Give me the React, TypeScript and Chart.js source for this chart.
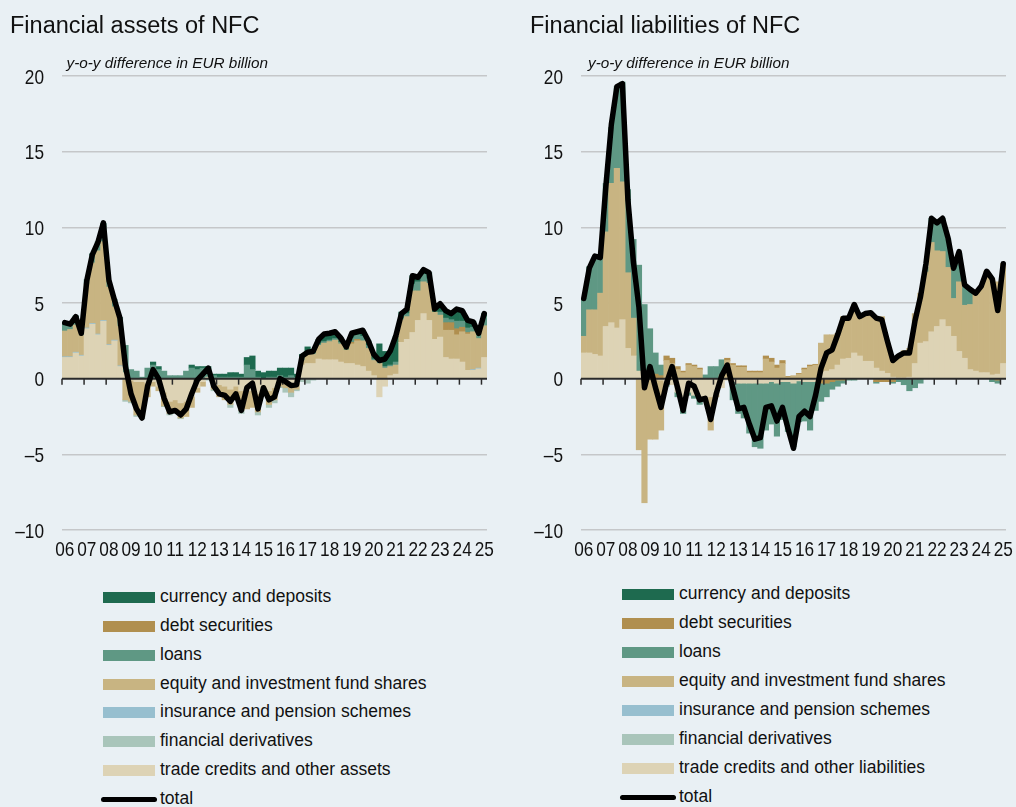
import React, { useEffect, useRef } from 'react';
import { Chart, registerables } from 'chart.js';

Chart.register(...registerables);

// ---------- tick labels / categories ----------
const yearLabels = ['06','07','08','09','10','11','12','13','14','15','16','17','18','19','20','21','22','23','24','25'];
const yTicks = [-10, -5, 0, 5, 10, 15, 20];
const quarters = yearLabels.flatMap((y) => ['Q1','Q2','Q3','Q4'].map((q) => `20${y} ${q}`)).slice(0, 77);

// ---------- Financial assets of NFC ----------
const assetsTrade = [
  1.4,1.4,1.7,1.5, 3.3,3.6,2.9,3.8, 2.2,2.5,0.8,0.4, -0.1,-0.2,-0.2,-0.3,
  -0.2,-0.5,-0.9,-1.5, -1.4,-1.6,-1.5,-1.2, -0.6,-0.2,0.1,-0.2, -0.4,-0.5,-0.7,-0.5,
  -0.8,-0.8,-0.8,-1.0, -0.5,-0.8,-0.6,-0.3, -0.3,-0.5,-0.3,0.9, 1.0,1.0,1.3,1.25,
  1.25,1.25,1.1,1.0, 1.0,0.9,0.8,0.5, 0.2,-1.2,-0.5,0.2, 0.3,2.4,2.6,3.05,
  3.85,4.3,3.85,2.6, 2.75,1.4,1.3,1.3, 1.1,0.55,0.55,0.65, 1.4,
];
const assetsEquity = [
  1.7,1.8,1.8,1.3, 2.9,4.0,5.5,5.2, 3.8,2.2,2.6,-1.4, -1.4,-2.2,-2.3,-0.9,
  -0.3,-0.3,-0.9,-0.8, -0.8,-1.0,-1.0,-0.7, -0.3,-0.3,0,-0.5, -0.8,-0.9,-1.0,-0.8,
  -1.3,-1.2,-1.1,-1.2, -0.6,-0.9,-0.8,-0.2, -0.3,-0.4,-0.4,0.3, 0.7,0.6,0.9,1.1,
  1.2,1.3,1.2,0.9, 1.3,1.6,1.7,1.5, 1.0,1.0,0.7,0.6, 0.6,1.5,1.5,2.75,
  1.95,2.1,2.45,1.8, 1.45,1.8,1.9,1.6, 2.0,2.4,2.5,1.95, 2.1,
];
const assetsLoans = [
  0.5,0.4,0.5,0.3, 0.3,0.5,0.6,1.0, 0.4,0.5,0.6,1.8, 0.6,0.5,0.1,0.7,
  0.9,0.6,0.5,0.2, 0.2,0.2,0.5,0.7, 0.6,0.7,0.6,0.2, 0.1,0.1,0.1,0.1,
  0.1,0.9,0.6,0.1, 0,0.1,0.1,0.2, 0.1,0.2,0.1,0.2, 0.1,0.1,0.1,0.1,
  0.1,0.1,0.1,0, 0.3,0.3,0.3,0.2, 0.1,0.1,0.1,0.1, 0.2,0.1,0.2,0.45,
  0.6,0.5,0.3,0, 0.2,0.3,0.2,0.5, 0.4,0.3,0.3,0.2, 0.6,
];
const assetsCurrency = [
  0.1,0,0.1,0, 0,0.1,0,0.2, 0,0,0,0, 0,0,0,0,
  0.2,0.2,0,0, 0,0,0,0.2, 0.2,0.1,0.1,0.1, 0.2,0.2,0.3,0.3,
  0.2,0.5,0.9,0.4, 0.4,0.4,0.4,0.5, 0.6,0.5,0.2,0.2, 0.3,0.2,0.3,0.5,
  0.5,0.4,0.3,0.2, 0.2,0.2,0.3,0.3, 0.4,1.2,1.0,0.9, 1.7,0.4,0.3,0.55,
  0.3,0.3,0.4,0.2, 0.55,0.5,0.4,0.8, 0.7,0.5,0.4,0.2, 0.2,
];
const assetsDebt = [
  0,0,0,0, 0,0,0,0, 0,0,0,0, 0,0,0,0,
  0,0,0,0, 0,0,0,0, 0,0,0,0, 0,0,0,0,
  0,0,0,0, 0,0,0,0, 0,0,0,0, 0,0,0,0,
  0,0,0,0, 0.1,0.1,0,0, 0,0,0,0, 0,0,0,0,
  0,0,0,0, 0,0.5,0.5,0.4, 0.3,0.1,0,0, 0,
];
const assetsInsurance = [
  0.05,0.05,0.05,0.05, 0.05,0.05,0.05,0.05, 0.05,0.05,0.05,0, 0,0,0,0,
  0,0,0,0, 0,0,0,0, 0,0,0,0, 0,0,0,0,
  0,0,0,0, 0,0,0,0, 0,0,0,0, 0,0,0,0,
  0,0,0,0, 0,0,0,0, 0,0,0,0, 0,0,0,0,
  0,0,0,0, 0,0,0,0, 0,0,0.05,0.05, 0,
];
const assetsDerivatives = [
  0,0,0,0, 0,0,0,0, 0,0,0,-0.1, -0.1,-0.1,-0.15,0,
  0,0,-0.05,-0.1, -0.1,-0.05,0,0, 0,0,-0.1,-0.1, 0,0,-0.2,-0.1,
  -0.2,0,0,-0.2, 0,-0.2,-0.2,-0.1, -0.3,-0.3,-0.1,-0.2, -0.3,-0.1,0,0,
  0,0,0,0, 0,0,0,0, 0,0,0,0, 0,0,0,0,
  0,0,0,0, 0,0,0,0, 0,0,0,0, 0,
];
const assetsTotal = [
  3.7,3.6,4.1,3.0, 6.5,8.2,9.0,10.3, 6.5,5.2,4.0,0.8, -1.0,-2.0,-2.6,-0.5,
  0.6,0.0,-1.3,-2.2, -2.1,-2.4,-2.0,-1.0, -0.1,0.3,0.7,-0.5, -1.0,-1.1,-1.5,-1.0,
  -2.1,-0.6,-0.3,-2.0, -0.6,-1.4,-1.2,0.0, -0.2,-0.45,-0.4,1.5, 1.75,1.8,2.6,2.95,
  3.0,3.1,2.7,2.1, 3.0,3.1,3.2,2.5, 1.6,1.2,1.3,1.85, 2.85,4.3,4.6,6.8,
  6.7,7.2,7.0,4.6, 4.95,4.5,4.3,4.6, 4.5,3.85,3.75,3.0, 4.3,
];

// ---------- Financial liabilities of NFC ----------
const liabTrade = [
  1.7,1.7,1.6,1.5, 3.45,3.7,3.35,3.9, 2.0,1.5,0.5,0.2, 0,0,-0.1,-0.3,
  -0.4,-0.9,-2.0,-0.9, -1.1,-1.4,-1.3,-1.2, -0.9,-0.6,-0.1,-0.2, -0.3,-0.3,-0.3,-0.3,
  -0.3,-0.3,-0.2,-0.3, -0.2,-0.2,-0.3,-0.15, -0.2,-0.2,-0.2,0.4, 0.5,0.6,0.9,1.3,
  1.35,1.7,1.5,1.15, 1.15,0.7,0.5,0.35, 0.1,0.05,0.05,0.1, 1.0,2.35,2.45,3.1,
  3.45,3.9,3.45,2.8, 1.8,1.35,0.6,0.5, 0.4,0.4,0.25,0.3, 1.0,
];
const liabEquity = [
  1.1,2.85,2.95,4.15, 6.25,9.2,10.55,9.1, 5.0,2.5,-4.7,-8.2, -4.0,-4.0,-3.3,1.2,
  1.0,0.6,0.4,0.9, 0.8,0.6,0,-2.2, -0.3,0.25,1.2,0.9, 0.75,0.75,0.4,0.4,
  0.4,1.3,1.1,0.7, 1.0,0.1,0.2,0.3, 0.6,0.8,0.9,1.95, 2.4,2.3,2.1,2.8,
  2.8,3.2,2.6,3.1, 3.2,3.3,3.6,2.0, 1.2,1.4,1.8,1.9, 3.3,3.3,4.6,5.9,
  5.0,4.5,3.9,2.5, 4.6,3.5,4.3,5.1, 5.7,6.7,6.35,6.1, 6.6,
];
const liabLoans = [
  2.5,2.85,3.3,2.45, 3.2,3.7,5.4,6.6, 5.5,5.2,7.0,4.7, 3.3,1.4,0.7,-0.2,
  0,-0.3,-0.3,-0.2, -0.2,-0.3,0.25,0.8, 0.8,1.0,0,-1.2, -2.0,-2.3,-3.3,-4.2,
  -4.3,-3.1,-2.8,-3.5, -2.5,-3.3,-4.2,-2.7, -2.6,-3.2,-1.9,-1.2, -0.9,-0.5,-0.4,-0.2,
  -0.1,-0.1,0,0, 0,-0.1,0,0, -0.1,-0.2,-0.4,-0.8, -0.6,-0.3,0.3,1.6,
  1.9,2.2,1.9,1.9, 1.9,1.3,1.0,0.05, 0,0,-0.2,-0.2, 0,
];
const liabDebt = [
  0,0,0,0, 0,0,0,0, 0,0,0,0, 0,0.3,0.2,0.3,
  0.35,0.2,0.1,0.1, 0.1,0.1,0,0, 0,0,0.15,0.1, 0.1,0.1,0.1,0.1,
  0.1,0.2,0.25,0.2, 0.2,0.05,0,0.05, 0.1,0.1,0.05,-0.3, -0.3,-0.2,-0.1,-0.1,
  0,0,0,0, 0,-0.2,-0.2,-0.2, -0.2,0,0,0, 0,0,0,0,
  0,0,0,0, 0,0,0,0, 0,0,0,-0.1, 0,
];
const liabDerivatives = [
  0,0,0,0, 0,0,0,0, 0,0,0,0, 0,0,0,0,
  0,0,0,0, 0,0,-0.2,0, 0,0,0,0, 0,0,0,0,
  0,0,0,0, 0,0,0,0, 0,0,0,0, 0,0,0,0,
  0,0,0,0, 0,0,0,0, 0,0,0,0, 0,0,0,0,
  0,0,0,0, 0,0,0,0, 0,0,0,0, 0,
];
const liabTotal = [
  5.3,7.3,8.1,8.0, 12.7,16.8,19.3,19.5, 11.8,7.7,4.7,-0.6, 0.8,-0.6,-1.9,-0.3,
  0.8,-0.6,-2.1,-0.3, -0.5,-1.4,-1.3,-2.7, -1.0,0.2,0.9,-0.6, -2.0,-1.9,-3.0,-4.0,
  -3.9,-1.9,-1.8,-2.8, -1.9,-3.3,-4.6,-2.5, -2.15,-2.5,-1.1,0.7, 1.7,1.9,2.9,4.0,
  4.0,4.9,4.1,4.3, 4.35,4.0,3.9,2.5, 1.2,1.5,1.7,1.7, 3.8,5.4,7.6,10.6,
  10.3,10.6,9.3,7.3, 8.4,6.2,5.9,5.65, 6.1,7.1,6.6,4.5, 7.6,
];

// ---------- styling ----------
const COLORS: Record<string, string> = {
  currency: '#1e6a4f',
  debt: '#b08f4f',
  loans: '#5f9884',
  equity: '#c8b482',
  insurance: '#97bfcf',
  derivatives: '#a9c5ba',
  trade: '#ddd3b5',
};
const BG = '#e9f0f4';
const FONT = '"Liberation Sans", Arial, Helvetica, sans-serif';

const legendKeys = ['currency', 'debt', 'loans', 'equity', 'insurance', 'derivatives', 'trade'];
const assetsLegend = ['currency and deposits', 'debt securities', 'loans', 'equity and investment fund shares', 'insurance and pension schemes', 'financial derivatives', 'trade credits and other assets'];
const liabLegend = ['currency and deposits', 'debt securities', 'loans', 'equity and investment fund shares', 'insurance and pension schemes', 'financial derivatives', 'trade credits and other liabilities'];

const axisPlugin = {
  id: 'nfcAxis',
  beforeDatasetDraw(chart: any, args: any) {
    if (args.index !== 0) return;
    const { ctx, chartArea, scales } = chart;
    const x = scales.x;
    const y = scales.y;
    const y0 = y.getPixelForValue(0);
    ctx.save();
    ctx.strokeStyle = '#2a2a2a';
    ctx.lineWidth = 2;
    ctx.beginPath();
    ctx.moveTo(chartArea.left, y0);
    ctx.lineTo(chartArea.right, y0);
    ctx.stroke();
    const half = (x.getPixelForValue(1) - x.getPixelForValue(0)) / 2;
    ctx.lineWidth = 1.5;
    yearLabels.forEach((_, i) => {
      const px = x.getPixelForValue(i * 4) - half;
      ctx.beginPath();
      ctx.moveTo(px, y0);
      ctx.lineTo(px, y0 + 6);
      ctx.stroke();
    });
    ctx.restore();
  },
  afterDraw(chart: any) {
    const { ctx, chartArea, scales } = chart;
    const x = scales.x;
    const y = scales.y;
    ctx.save();
    ctx.fillStyle = '#111';
    ctx.font = `21px ${FONT}`;
    ctx.textBaseline = 'alphabetic';
    ctx.textAlign = 'right';
    yTicks.forEach((v) => {
      const py = y.getPixelForValue(v);
      const txt = v < 0 ? '\u2013' + Math.abs(v) : String(v);
      ctx.save();
      ctx.translate(chartArea.left - 18, py + 7.5);
      ctx.scale(0.82, 1);
      ctx.fillText(txt, 0, 0);
      ctx.restore();
    });
    ctx.textAlign = 'center';
    yearLabels.forEach((lab, i) => {
      const px = x.getPixelForValue(i * 4);
      ctx.save();
      ctx.translate(px, chartArea.bottom + 26);
      ctx.scale(0.82, 1);
      ctx.fillText(lab, 0, 0);
      ctx.restore();
    });
    ctx.restore();
  },
};

type Stack = { key: string; data: number[] };

function buildConfig(stack: Stack[], total: number[], rightPad: number): any {
  return {
    type: 'bar',
    data: {
      labels: quarters,
      datasets: [
        {
          type: 'line',
          label: 'total',
          data: total,
          borderColor: '#000',
          backgroundColor: '#000',
          borderWidth: 5.5,
          pointRadius: 0,
          pointHoverRadius: 0,
          tension: 0,
          borderJoinStyle: 'round',
          borderCapStyle: 'round',
          fill: false,
          order: -1,
        },
        ...stack.map((s) => ({
          type: 'bar',
          label: s.key,
          data: s.data.map((v) => (v === 0 ? null : v)),
          backgroundColor: COLORS[s.key],
          borderWidth: 0,
          barPercentage: 1,
          categoryPercentage: 1,
          order: 0,
        })),
      ],
    },
    options: {
      animation: false,
      responsive: false,
      maintainAspectRatio: false,
      events: [],
      layout: { padding: { top: 76, right: rightPad, bottom: 0, left: 0 } },
      plugins: { legend: { display: false }, tooltip: { enabled: false }, title: { display: false } },
      scales: {
        x: {
          stacked: true,
          grid: { display: false },
          border: { display: false },
          ticks: { display: false },
          afterFit: (s: any) => { s.height = 40; },
        },
        y: {
          stacked: true,
          min: -10,
          max: 20,
          ticks: { stepSize: 5, display: false },
          grid: {
            color: (c: any) => (c.tick && c.tick.value === 0 ? 'rgba(0,0,0,0)' : '#c5c7c9'),
            lineWidth: 1.5,
            drawTicks: false,
          },
          border: { display: false },
          afterFit: (s: any) => { s.width = 62; },
        },
      },
    },
    plugins: [axisPlugin],
  };
}

function Panel(props: { left: number; width: number; rightPad: number; stack: Stack[]; total: number[] }) {
  const ref = useRef<HTMLCanvasElement>(null);
  useEffect(() => {
    const chart = new Chart(ref.current as HTMLCanvasElement, buildConfig(props.stack, props.total, props.rightPad));
    return () => chart.destroy();
  }, []);
  return (
    <canvas
      ref={ref}
      width={props.width}
      height={570}
      style={{ position: 'absolute', left: props.left, top: 0, width: props.width, height: 570 }}
    />
  );
}

function Legend(props: { swatchLeft: number; top: number; step: number; labels: string[] }) {
  const { swatchLeft, top, step, labels } = props;
  const rows = legendKeys.map((k, i) => {
    const cy = top + step * i;
    return (
      <React.Fragment key={k}>
        <div style={{ position: 'absolute', left: swatchLeft, top: cy - 5.5, width: 52, height: 11, background: COLORS[k] }} />
        <div style={{ position: 'absolute', left: swatchLeft + 57, top: cy - 11.5, height: 20, lineHeight: '20px', fontSize: 17.5, whiteSpace: 'nowrap' }}>{labels[i]}</div>
      </React.Fragment>
    );
  });
  const cy = top + step * 7;
  return (
    <>
      {rows}
      <div style={{ position: 'absolute', left: swatchLeft - 2, top: cy - 2.5, width: 56, height: 5, borderRadius: 3, background: '#000' }} />
      <div style={{ position: 'absolute', left: swatchLeft + 57, top: cy - 11.5, height: 20, lineHeight: '20px', fontSize: 17.5, whiteSpace: 'nowrap' }}>total</div>
    </>
  );
}

const assetsStack: Stack[] = [
  { key: 'trade', data: assetsTrade },
  { key: 'insurance', data: assetsInsurance },
  { key: 'equity', data: assetsEquity },
  { key: 'debt', data: assetsDebt },
  { key: 'loans', data: assetsLoans },
  { key: 'currency', data: assetsCurrency },
  { key: 'derivatives', data: assetsDerivatives },
];
const liabStack: Stack[] = [
  { key: 'trade', data: liabTrade },
  { key: 'equity', data: liabEquity },
  { key: 'debt', data: liabDebt },
  { key: 'loans', data: liabLoans },
  { key: 'derivatives', data: liabDerivatives },
];

export default function App() {
  return (
    <div
      style={{
        position: 'fixed',
        left: 0,
        top: 0,
        width: 1016,
        height: 807,
        overflow: 'hidden',
        background: BG,
        fontFamily: FONT,
        color: '#111',
      }}
    >
      <Panel left={0} width={500} rightPad={13} stack={assetsStack} total={assetsTotal} />
      <Panel left={519} width={497} rightPad={10} stack={liabStack} total={liabTotal} />

      <div style={{ position: 'absolute', left: 10, top: 14, fontSize: 23.5, lineHeight: '23.5px', whiteSpace: 'nowrap' }}>Financial assets of NFC</div>
      <div style={{ position: 'absolute', left: 530, top: 14, fontSize: 23.5, lineHeight: '23.5px', whiteSpace: 'nowrap' }}>Financial liabilities of NFC</div>

      <div style={{ position: 'absolute', left: 66.5, top: 54.7, fontSize: 15.3, lineHeight: '15.3px', fontStyle: 'italic', whiteSpace: 'nowrap' }}>y-o-y difference in EUR billion</div>
      <div style={{ position: 'absolute', left: 588, top: 54.7, fontSize: 15.3, lineHeight: '15.3px', fontStyle: 'italic', whiteSpace: 'nowrap' }}>y-o-y difference in EUR billion</div>

      <Legend swatchLeft={103} top={597.3} step={28.9} labels={assetsLegend} />
      <Legend swatchLeft={622} top={594} step={29} labels={liabLegend} />
    </div>
  );
}
